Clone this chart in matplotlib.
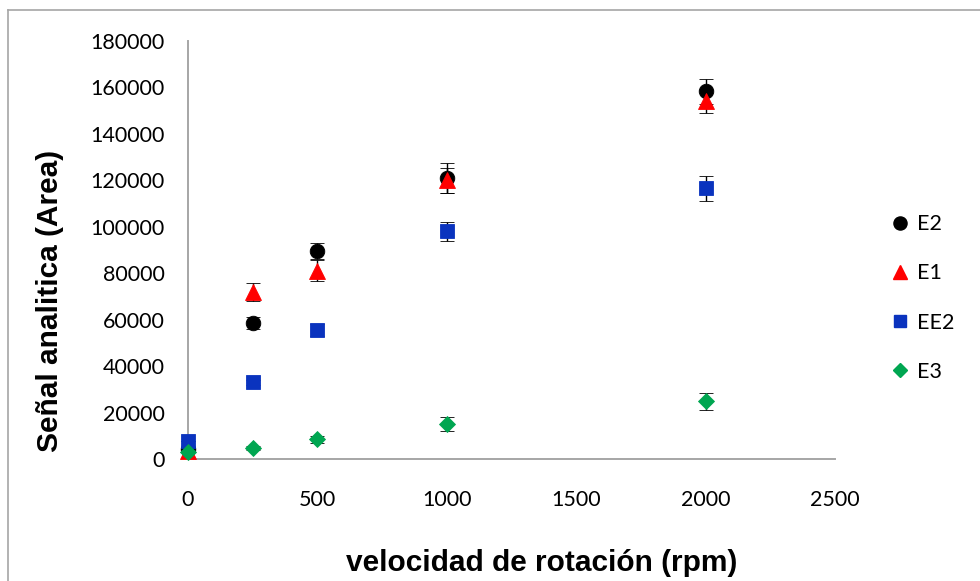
import matplotlib

matplotlib.use("Agg")
import matplotlib.pyplot as plt
from matplotlib.lines import Line2D

# rotation speed (rpm) and mean peak area for each electrode
rpm = [0, 250, 500, 1000, 2000]

e2 = [4200, 58500, 89500, 121000, 158300]
e2_err = [0, 2500, 3500, 6500, 5500]

e1 = [3500, 72000, 81000, 120000, 154000]
e1_err = [0, 3800, 4500, 5500, 5000]

ee2 = [7800, 33000, 55500, 98000, 116500]
ee2_err = [0, 1000, 2500, 4000, 5500]

e3 = [3000, 4800, 8500, 15000, 24800]
e3_err = [0, 1000, 1500, 3000, 3500]

series_names = ["E2", "E1", "EE2", "E3"]

x_ticks = [0, 500, 1000, 1500, 2000, 2500]
y_ticks = list(range(0, 180001, 20000))

TICK_FONT = ["Lato", "DejaVu Sans"]
LABEL_FONT = ["Liberation Sans", "DejaVu Sans"]
GRAY = "#A6A6A6"

styles = {
    "E2": dict(marker="o", color="#000000", ms=10.5),
    "E1": dict(marker="^", color="#FF0000", ms=11),
    "EE2": dict(marker="s", color="#0A33BE", ms=10),
    "E3": dict(marker="D", color="#00A651", ms=8),
}

fig = plt.figure(figsize=(9.8, 5.81), dpi=100)
fig.patch.set_facecolor("white")
ax = fig.add_axes([188 / 980, 1 - 459 / 581, (835 - 188) / 980, (459 - 41) / 581])

data = [(e2, e2_err), (e1, e1_err), (ee2, ee2_err), (e3, e3_err)]
for name, (vals, errs) in zip(series_names, data):
    st = styles[name]
    ax.errorbar(
        rpm,
        vals,
        yerr=errs,
        fmt=st["marker"],
        color=st["color"],
        markersize=st["ms"],
        markeredgewidth=0.6,
        markeredgecolor=st["color"],
        ecolor="black",
        elinewidth=1.0,
        capsize=5,
        capthick=1.0,
        clip_on=False,
        zorder=3,
    )

ax.set_xlim(0, 2500)
ax.set_ylim(0, 180000)
ax.set_xticks(x_ticks)
ax.set_yticks(y_ticks)
ax.set_xticklabels([str(v) for v in x_ticks], fontfamily=TICK_FONT, fontsize=15.5)
ax.set_yticklabels([str(v) for v in y_ticks], fontfamily=TICK_FONT, fontsize=15.5)
ax.tick_params(axis="x", length=0, pad=22)
ax.tick_params(axis="y", length=0, pad=17)

for side in ["top", "right"]:
    ax.spines[side].set_visible(False)
for side in ["left", "bottom"]:
    ax.spines[side].set_color(GRAY)
    ax.spines[side].set_linewidth(1.4)
ax.grid(False)

fig.text(0.051, 1 - 301 / 581, "Señal analitica (Area)", rotation=90,
         ha="center", va="center", fontsize=21.5, fontweight="bold", fontfamily=LABEL_FONT)
fig.text(542 / 980, 1 - 563 / 581, "velocidad de rotación (rpm)",
         ha="center", va="center", fontsize=21.5, fontweight="bold", fontfamily=LABEL_FONT)

handles = [
    Line2D([0], [0], linestyle="None", marker=styles[n]["marker"], color=styles[n]["color"],
           markersize=styles[n]["ms"] * 0.9, label=n)
    for n in series_names
]
fig.legend(
    handles=handles,
    loc="center left",
    bbox_to_anchor=(872 / 980, 1 - 298 / 581),
    frameon=False,
    handlelength=0.8,
    handletextpad=0.4,
    labelspacing=1.35,
    prop={"family": TICK_FONT, "size": 15.5},
)

# chart area frame, cut off on the right and bottom
border_x = 8 / 980
border_y = 1 - 10 / 581
fig.add_artist(Line2D([border_x, border_x], [-0.1, border_y], color=GRAY, linewidth=1.2,
                      transform=fig.transFigure))
fig.add_artist(Line2D([border_x, 1.1], [border_y, border_y], color=GRAY, linewidth=1.2,
                      transform=fig.transFigure))

fig.savefig("out.png", dpi=100, facecolor="white")
